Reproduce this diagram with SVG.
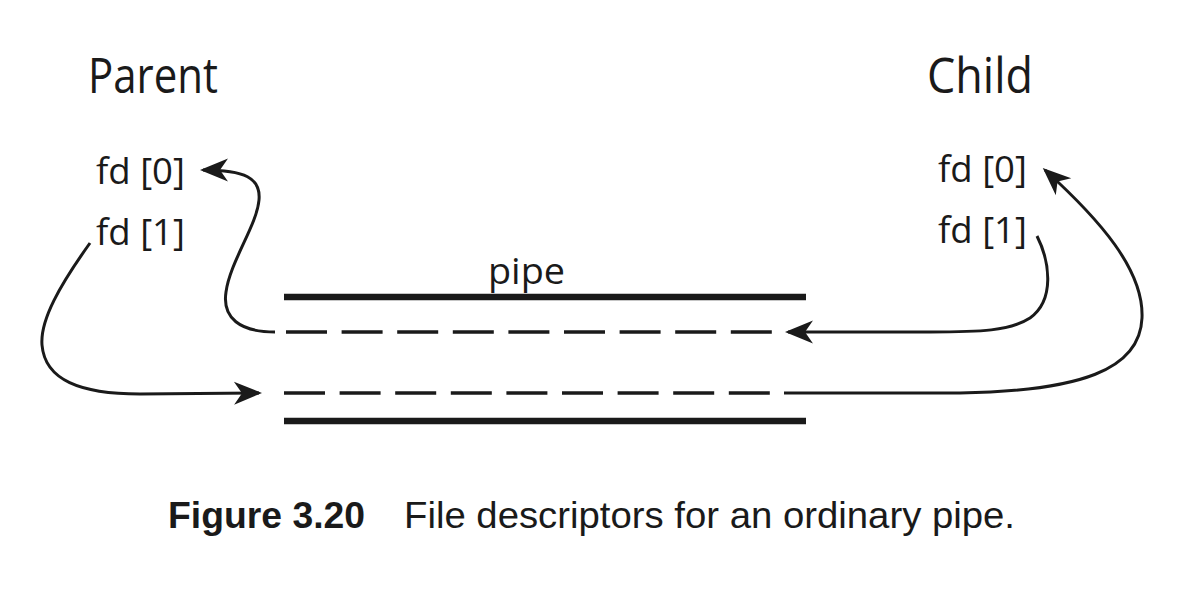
<svg xmlns="http://www.w3.org/2000/svg" width="1182" height="594" viewBox="0 0 1182 594">
  <style>
    .lbl { font-family: "Open Sans", "Noto Sans", sans-serif; fill: #1a1a1a; }
    .big { font-size: 49px; }
    .fd { font-size: 36px; }
    .cap { font-family: "Liberation Sans", Arial, sans-serif; font-size: 36px; fill: #1a1a1a; }
    .solid { stroke: #1a1a1a; stroke-width: 6.5; fill: none; }
    .dash { stroke: #1a1a1a; stroke-width: 3.6; fill: none; stroke-dasharray: 41 14.6; }
    .conn { stroke: #1a1a1a; stroke-width: 3; fill: none; marker-end: url(#arrow); }
  </style>
  <defs>
    <marker id="arrow" markerUnits="userSpaceOnUse" viewBox="-30 -13 36 26" markerWidth="36" markerHeight="26" refX="0" refY="0" orient="auto">
      <path d="M3,0 L-25,-11.5 L-17,0 L-25,11.5 Z" fill="#1a1a1a"/>
    </marker>
  </defs>
  <rect width="1182" height="594" fill="#ffffff"/>

  <g id="parent">
    <text class="lbl big" x="88" y="93" textLength="130" lengthAdjust="spacingAndGlyphs">Parent</text>
    <text class="lbl fd" x="96" y="184" textLength="89" lengthAdjust="spacingAndGlyphs">fd [0]</text>
    <text class="lbl fd" x="96" y="245" textLength="89" lengthAdjust="spacingAndGlyphs">fd [1]</text>
  </g>

  <g id="child">
    <text class="lbl big" x="927" y="93" textLength="106" lengthAdjust="spacingAndGlyphs">Child</text>
    <text class="lbl fd" x="938" y="182" textLength="89" lengthAdjust="spacingAndGlyphs">fd [0]</text>
    <text class="lbl fd" x="938" y="243" textLength="89" lengthAdjust="spacingAndGlyphs">fd [1]</text>
  </g>

  <g id="pipe">
    <text class="lbl fd" x="488" y="284" textLength="77" lengthAdjust="spacingAndGlyphs">pipe</text>
    <line class="solid" x1="284" y1="297" x2="806" y2="297"/>
    <line class="dash" x1="286" y1="332" x2="773" y2="332"/>
    <line class="dash" x1="284" y1="393" x2="771" y2="393"/>
    <line class="solid" x1="284" y1="421" x2="806" y2="421"/>
  </g>

  <g id="connectors">
    <path class="conn" d="M275,332 C240,332 222,318 226,292 C230,262 257,225 259,200 C261,178 245,170 203,170"/>
    <path class="conn" d="M90,243 C60,285 40,320 42,345 C45,380 80,394 140,394 L259,393"/>
    <path class="conn" d="M1037,236 C1050,262 1055,300 1030,318 C1010,331 980,332 930,332 L788,332"/>
    <path class="conn" d="M784,393 L960,393 C1080,391 1140,370 1142,318 C1144,270 1100,220 1045,170"/>
  </g>

  <g id="caption">
    <text class="cap" x="168" y="528" font-weight="bold" textLength="197" lengthAdjust="spacingAndGlyphs">Figure 3.20</text>
    <text class="cap" x="404" y="528" textLength="611" lengthAdjust="spacingAndGlyphs">File descriptors for an ordinary pipe.</text>
  </g>
</svg>
